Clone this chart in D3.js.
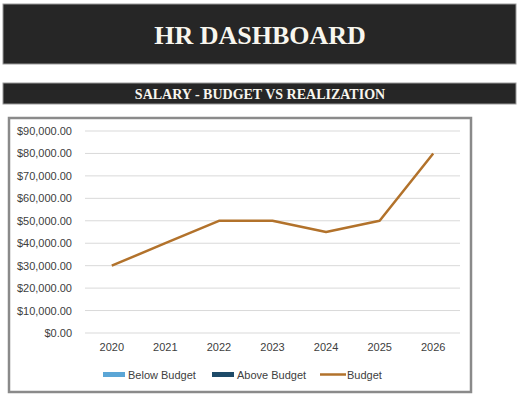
<!DOCTYPE html>
<html>
<head>
<meta charset="utf-8">
<script src="https://cdn.jsdelivr.net/npm/d3@7"></script>
<style>
  body { margin: 0; background: #fff; }
</style>
</head>
<body>
<div id="chart"></div>
<script>
const years = ['2020', '2021', '2022', '2023', '2024', '2025', '2026']
const budget = [30000, 40000, 50000, 50000, 45000, 50000, 80000]
const yTicks = [0, 10000, 20000, 30000, 40000, 50000, 60000, 70000, 80000, 90000]
const legendItems = ['Below Budget', 'Above Budget', 'Budget']
const legendColors = ['#5ba6d6', '#1d4a68', '#b2722b']

const width = 520, height = 400
const svg = d3.select('#chart').append('svg').attr('width', width).attr('height', height)

// header bars
svg.append('rect').attr('x', 3).attr('y', 4).attr('width', 513).attr('height', 60)
    .attr('fill', '#262626').attr('stroke', '#9a9a9a').attr('stroke-width', 1)
svg.append('text').attr('x', 260).attr('y', 44).attr('text-anchor', 'middle')
    .attr('font-family', 'Liberation Serif, serif').attr('font-weight', 'bold')
    .attr('font-size', 26).attr('fill', '#f8f6ee').text('HR DASHBOARD')

svg.append('rect').attr('x', 3).attr('y', 83).attr('width', 513).attr('height', 21)
    .attr('fill', '#262626').attr('stroke', '#9a9a9a').attr('stroke-width', 1)
svg.append('text').attr('x', 260).attr('y', 99).attr('text-anchor', 'middle')
    .attr('font-family', 'Liberation Serif, serif').attr('font-weight', 'bold')
    .attr('font-size', 14).attr('fill', '#f8f6ee').text('SALARY - BUDGET VS REALIZATION')

// chart frame
svg.append('rect').attr('x', 9).attr('y', 118).attr('width', 462).attr('height', 274)
    .attr('fill', '#fff').attr('stroke', '#8a8a8a').attr('stroke-width', 2.5)

const x = d3.scaleBand().domain(years).range([85, 460])
const y = d3.scaleLinear().domain([0, 90000]).range([333, 131])
const fmt = d3.format('$,.2f')

const grid = svg.append('g')
grid.selectAll('line').data(yTicks).enter().append('line')
    .attr('x1', 85).attr('x2', 460)
    .attr('y1', d => y(d)).attr('y2', d => y(d))
    .attr('stroke', '#d9d9d9').attr('stroke-width', 1)

const yAxis = svg.append('g').attr('transform', 'translate(85,0)')
    .call(d3.axisLeft(y).tickValues(yTicks).tickFormat(fmt).tickSize(0).tickPadding(13))
yAxis.select('.domain').remove()

const xAxis = svg.append('g').attr('transform', 'translate(0,333)')
    .call(d3.axisBottom(x).tickSize(0).tickPadding(10))
xAxis.select('.domain').remove()

svg.selectAll('.tick text').attr('font-family', 'Liberation Sans, Arial, sans-serif')
    .attr('font-size', 11).attr('fill', '#404040')

const line = d3.line().x((d, i) => x(years[i]) + x.bandwidth() / 2).y(d => y(d))
svg.append('path').attr('d', line(budget)).attr('fill', 'none')
    .attr('stroke', legendColors[2]).attr('stroke-width', 2.5).attr('stroke-linejoin', 'round')

// legend
const legendX = [103, 212, 320]
const lg = svg.append('g')
legendItems.forEach((name, i) => {
    if (i < 2) {
        lg.append('rect').attr('x', legendX[i]).attr('y', 372).attr('width', 22).attr('height', 5)
            .attr('fill', legendColors[i])
    } else {
        lg.append('line').attr('x1', legendX[i]).attr('x2', legendX[i] + 26)
            .attr('y1', 374.5).attr('y2', 374.5)
            .attr('stroke', legendColors[i]).attr('stroke-width', 2.5)
    }
    lg.append('text').attr('x', legendX[i] + (i < 2 ? 25 : 27)).attr('y', 378.5)
        .attr('font-family', 'Liberation Sans, Arial, sans-serif').attr('font-size', 11)
        .attr('fill', '#404040').text(name)
})
</script>
</body>
</html>
